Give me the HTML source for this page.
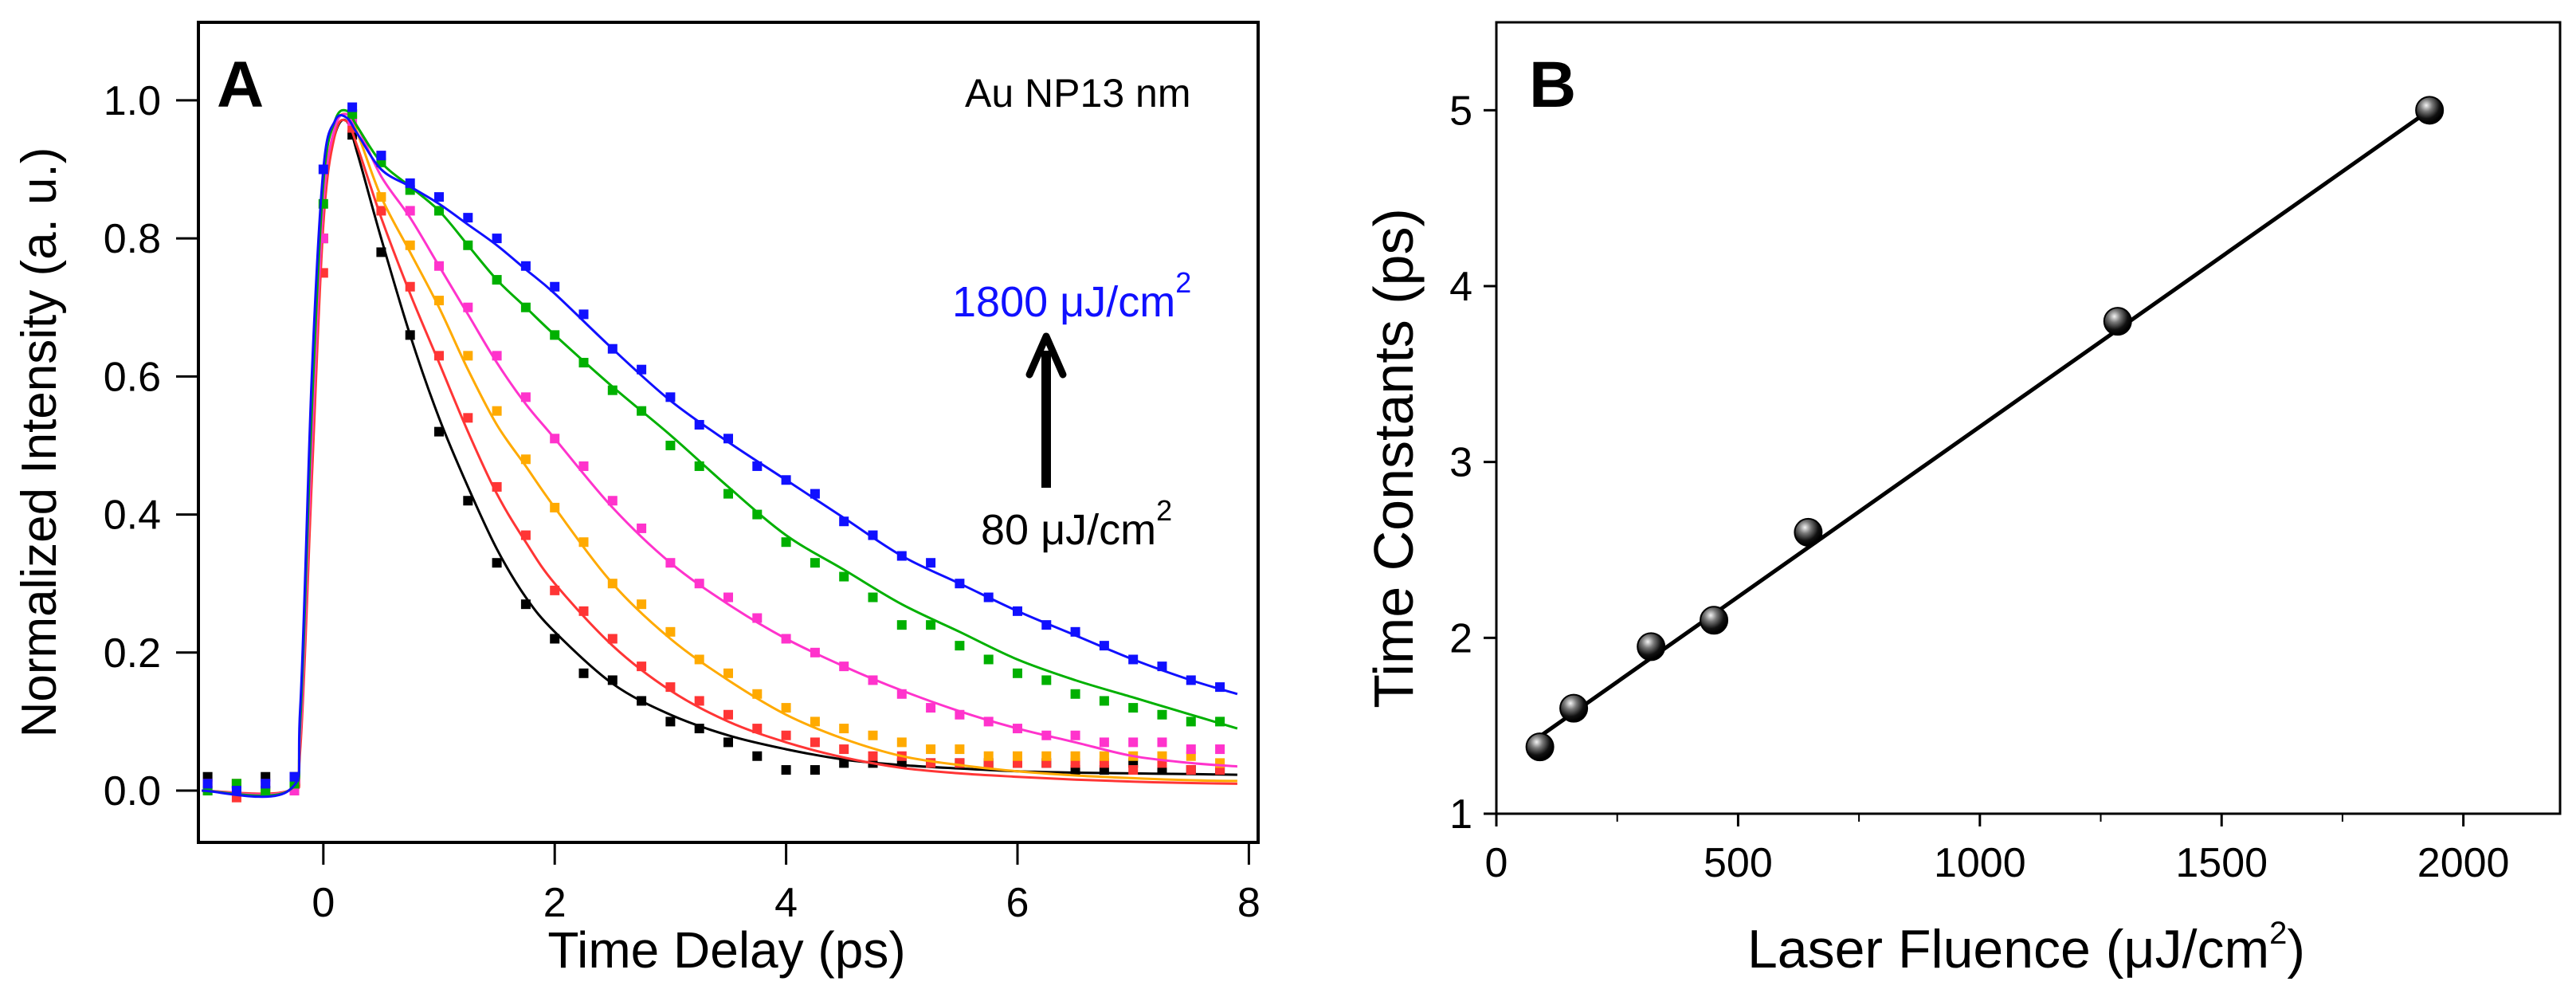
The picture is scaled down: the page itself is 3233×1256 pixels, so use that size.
<!DOCTYPE html>
<html><head><meta charset="utf-8"><style>
html,body{margin:0;padding:0;background:#fff;}
svg{display:block;font-family:"Liberation Sans",Arial,sans-serif;}
</style></head><body>
<svg id="fig" width="3233" height="1256" viewBox="0 0 3233 1256" xmlns="http://www.w3.org/2000/svg">
<g id="panelA"></g>
<g id="panelB"></g>
</svg>
<script>
// ---------- Panel A data ----------
const tFit = [-1.05,-0.3,-0.2,-0.1,0,0.1,0.2,0.3,0.5,0.75,1,1.25,1.5,1.75,2,2.5,3,3.5,4,4.5,5,5.5,6,6.5,7,7.5,7.9];
const fitBlue    = [0,0,0.12,0.6,0.9,0.97,0.975,0.95,0.9,0.875,0.85,0.82,0.79,0.755,0.72,0.64,0.565,0.505,0.45,0.395,0.34,0.30,0.26,0.225,0.19,0.16,0.14];
const fitGreen   = [0,0,0.1,0.55,0.88,0.97,0.985,0.96,0.91,0.875,0.84,0.79,0.74,0.70,0.66,0.585,0.515,0.44,0.37,0.32,0.27,0.23,0.19,0.16,0.135,0.11,0.09];
const fitMagenta = [0,0,0.08,0.5,0.85,0.96,0.98,0.96,0.89,0.83,0.76,0.69,0.62,0.56,0.51,0.41,0.33,0.27,0.22,0.18,0.145,0.115,0.09,0.07,0.05,0.04,0.035];
const fitOrange  = [0,0,0.08,0.5,0.85,0.96,0.98,0.95,0.86,0.78,0.70,0.61,0.53,0.47,0.41,0.30,0.22,0.16,0.11,0.075,0.05,0.037,0.028,0.022,0.018,0.015,0.014];
const fitRed     = [0,0,0.06,0.45,0.82,0.95,0.97,0.93,0.83,0.72,0.62,0.52,0.43,0.36,0.30,0.21,0.145,0.10,0.07,0.048,0.033,0.025,0.02,0.016,0.013,0.011,0.01];
const fitBlack   = [0,0,0.08,0.5,0.85,0.95,0.97,0.92,0.80,0.66,0.54,0.44,0.35,0.28,0.23,0.155,0.11,0.08,0.06,0.045,0.037,0.032,0.028,0.026,0.025,0.024,0.023];

const tScat = [-1,-0.75,-0.5,-0.25,0,0.25,0.5,0.75,1,1.25,1.5,1.75,2,2.25,2.5,2.75,3,3.25,3.5,3.75,4,4.25,4.5,4.75,5,5.25,5.5,5.75,6,6.25,6.5,6.75,7,7.25,7.5,7.75];
const scatBlue    = [0.01,0.0,0.01,0.02,0.9,0.99,0.92,0.88,0.86,0.83,0.80,0.76,0.73,0.69,0.64,0.61,0.57,0.53,0.51,0.47,0.45,0.43,0.39,0.37,0.34,0.33,0.30,0.28,0.26,0.24,0.23,0.21,0.19,0.18,0.16,0.15];
const scatGreen   = [0.0,0.01,0.0,0.01,0.85,0.98,0.91,0.87,0.84,0.79,0.74,0.70,0.66,0.62,0.58,0.55,0.50,0.47,0.43,0.40,0.36,0.33,0.31,0.28,0.24,0.24,0.21,0.19,0.17,0.16,0.14,0.13,0.12,0.11,0.10,0.10];
const scatMagenta = [0.01,0.0,0.01,0.0,0.8,0.97,0.92,0.84,0.76,0.70,0.63,0.57,0.51,0.47,0.42,0.38,0.33,0.30,0.28,0.25,0.22,0.20,0.18,0.16,0.14,0.12,0.11,0.10,0.09,0.08,0.08,0.07,0.07,0.07,0.06,0.06];
const scatOrange  = [0.0,0.01,0.0,0.01,0.8,0.98,0.86,0.79,0.71,0.63,0.55,0.48,0.41,0.36,0.30,0.27,0.23,0.19,0.17,0.14,0.12,0.10,0.09,0.08,0.07,0.06,0.06,0.05,0.05,0.05,0.05,0.05,0.05,0.05,0.05,0.04];
const scatRed     = [0.01,-0.01,0.0,0.0,0.75,0.96,0.84,0.73,0.63,0.54,0.44,0.37,0.29,0.26,0.22,0.18,0.15,0.13,0.11,0.09,0.08,0.07,0.06,0.05,0.05,0.04,0.04,0.04,0.04,0.04,0.04,0.04,0.03,0.04,0.03,0.03];
const scatBlack   = [0.02,0.01,0.02,0.02,0.8,0.95,0.78,0.66,0.52,0.42,0.33,0.27,0.22,0.17,0.16,0.13,0.10,0.09,0.07,0.05,0.03,0.03,0.04,0.04,0.04,0.04,0.04,0.04,0.04,0.04,0.03,0.03,0.04,0.03,0.03,0.03];

const xTicksA = [0,2,4,6,8];
const yTicksA = [0.0,0.2,0.4,0.6,0.8,1.0];
const yTickLabelsA = ["0.0","0.2","0.4","0.6","0.8","1.0"];

// ---------- Panel B data ----------
const fluence = [90,160,320,450,645,1285,1930];
const timeConst = [1.38,1.6,1.95,2.1,2.6,3.8,5.0];
const fitLineX = [90,1930];
const fitLineY = [1.44,5.0];
const xTicksB = [0,500,1000,1500,2000];
const xMinorB = [250,750,1250,1750];
const yTicksB = [1,2,3,4,5];

const NS = "http://www.w3.org/2000/svg";
function mk(parent, tag, attrs, text){
  const e = document.createElementNS(NS, tag);
  for (const k in attrs) e.setAttribute(k, attrs[k]);
  if (text !== undefined) e.textContent = text;
  parent.appendChild(e);
  return e;
}

const A = {l:249, r:1579, t:28, b:1057, x0:-1.08, x1:8.08, y0:-0.075, y1:1.113};
const xA = v => A.l + (v - A.x0) / (A.x1 - A.x0) * (A.r - A.l);
const yA = v => A.b - (v - A.y0) / (A.y1 - A.y0) * (A.b - A.t);

const gA = document.getElementById('panelA');
const series = [
  {name:'black',  color:'#000000', fit:fitBlack,   sc:scatBlack},
  {name:'red',    color:'#ff3535', fit:fitRed,     sc:scatRed},
  {name:'orange', color:'#ffaa00', fit:fitOrange,  sc:scatOrange},
  {name:'magenta',color:'#ff33cc', fit:fitMagenta, sc:scatMagenta},
  {name:'green',  color:'#00b000', fit:fitGreen,   sc:scatGreen},
  {name:'blue',   color:'#1010ff', fit:fitBlue,    sc:scatBlue}
];
function smoothPath(px, py){
  let d = 'M' + px[0] + ',' + py[0];
  for (let i = 0; i < px.length - 1; i++){
    const p0x = px[Math.max(0,i-1)], p0y = py[Math.max(0,i-1)];
    const p3x = px[Math.min(px.length-1,i+2)], p3y = py[Math.min(px.length-1,i+2)];
    const c1x = px[i] + (px[i+1]-p0x)/6, c1y = py[i] + (py[i+1]-p0y)/6;
    const c2x = px[i+1] - (p3x-px[i])/6, c2y = py[i+1] - (p3y-py[i])/6;
    d += ' C' + c1x.toFixed(1)+','+c1y.toFixed(1)+' '+c2x.toFixed(1)+','+c2y.toFixed(1)+' '+px[i+1].toFixed(1)+','+py[i+1].toFixed(1);
  }
  return d;
}
series.forEach(s => {
  const g = mk(gA, 'g', {});
  
  
  s.sc.forEach((v, i) => {
    const r = mk(g, 'rect', {x: xA(tScat[i]) - 6, y: yA(v) - 6, width: 12, height: 12, fill: s.color});
    
    
  });
  const p = mk(g, 'path', {d: smoothPath(tFit.map(xA), s.fit.map(yA)), fill:'none', stroke:s.color, 'stroke-width':3});
  
  
});
const frA = mk(gA, 'rect', {x:A.l, y:A.t, width:A.r-A.l, height:A.b-A.t, fill:'none', stroke:'#000', 'stroke-width':4});


xTicksA.forEach(v => {
  const t = mk(gA, 'line', {x1:xA(v), x2:xA(v), y1:A.b, y2:A.b+28, stroke:'#000', 'stroke-width':3});
  
  
  const l = mk(gA, 'text', {x:xA(v), y:1150, 'text-anchor':'middle', 'font-size':52}, String(v));
  
  
});
yTicksA.forEach((v, i) => {
  const t = mk(gA, 'line', {x1:A.l-28, x2:A.l, y1:yA(v), y2:yA(v), stroke:'#000', 'stroke-width':3});
  
  
  const l = mk(gA, 'text', {x:202, y:yA(v)+18, 'text-anchor':'end', 'font-size':52}, yTickLabelsA[i]);
  
  
});

const B = {l:1878, r:3213, t:28, b:1021, x0:0, x1:2200, y0:1, y1:5.5};
const xB = v => B.l + (v - B.x0) / (B.x1 - B.x0) * (B.r - B.l);
const yB = v => B.b - (v - B.y0) / (B.y1 - B.y0) * (B.b - B.t);
const gB = document.getElementById('panelB');
const defs = mk(gB, 'defs', {});
const rg = mk(defs, 'radialGradient', {id:'ball', cx:'0.38', cy:'0.32', r:'0.65'});
mk(rg, 'stop', {offset:'0', 'stop-color':'#f4f4f4'});
mk(rg, 'stop', {offset:'0.35', 'stop-color':'#777'});
mk(rg, 'stop', {offset:'0.75', 'stop-color':'#111'});
mk(rg, 'stop', {offset:'1', 'stop-color':'#000'});
const fl = mk(gB, 'line', {x1:xB(fitLineX[0]), y1:yB(fitLineY[0]), x2:xB(fitLineX[1]), y2:yB(fitLineY[1]), stroke:'#000', 'stroke-width':5});


fluence.forEach((f, i) => {
  const c = mk(gB, 'circle', {cx:xB(f), cy:yB(timeConst[i]), r:17, fill:'url(#ball)', stroke:'#000', 'stroke-width':2});
  
  
});
const frB = mk(gB, 'rect', {x:B.l, y:B.t, width:B.r-B.l, height:B.b-B.t, fill:'none', stroke:'#000', 'stroke-width':3});


xTicksB.forEach(v => {
  const t = mk(gB, 'line', {x1:xB(v), x2:xB(v), y1:B.b, y2:B.b+16, stroke:'#000', 'stroke-width':3});
  
  
  const l = mk(gB, 'text', {x:xB(v), y:1100, 'text-anchor':'middle', 'font-size':52}, String(v));
  
  
});
xMinorB.forEach(v => {
  const t = mk(gB, 'line', {x1:xB(v), x2:xB(v), y1:B.b, y2:B.b+10, stroke:'#000', 'stroke-width':2});
  
  
});
yTicksB.forEach(v => {
  const t = mk(gB, 'line', {x1:B.l-16, x2:B.l, y1:yB(v), y2:yB(v), stroke:'#000', 'stroke-width':3});
  
  
  const l = mk(gB, 'text', {x:1848, y:yB(v)+18, 'text-anchor':'end', 'font-size':52}, String(v));
  
  
});
</script>
<div style="position:absolute;left:0;top:0;width:3233px;height:1256px;pointer-events:none">
<svg width="3233" height="1256" viewBox="0 0 3233 1256" style="font-family:'Liberation Sans',Arial,sans-serif">
  <text x="272" y="134" font-size="82" font-weight="bold">A</text>
  <text x="1211" y="134" font-size="50">Au NP13 nm</text>
  <text x="1195" y="397" font-size="54" fill="#1010ff">1800 μJ/cm<tspan dy="-30" font-size="36">2</tspan></text>
  <g>
    <line x1="1313" y1="612" x2="1313" y2="440" stroke="#000" stroke-width="12"/>
    <path d="M1292,470 L1313,422 L1334,470" fill="none" stroke="#000" stroke-width="9" stroke-linecap="round" stroke-linejoin="round"/>
  </g>
  <text x="1231" y="683" font-size="54">80 μJ/cm<tspan dy="-30" font-size="36">2</tspan></text>
  <text x="912" y="1214" font-size="64" text-anchor="middle">Time Delay (ps)</text>
  <text transform="translate(70,555) rotate(-90)" font-size="62" text-anchor="middle">Normalized Intensity (a. u.)</text>
  <text x="1919" y="134" font-size="82" font-weight="bold">B</text>
  <text x="2543" y="1214" font-size="68" text-anchor="middle">Laser Fluence (μJ/cm<tspan dy="-30" font-size="40">2</tspan><tspan dy="30">)</tspan></text>
  <text transform="translate(1773,575) rotate(-90)" font-size="70" text-anchor="middle">Time Constants (ps)</text>
</svg>
</div>
</body></html>
